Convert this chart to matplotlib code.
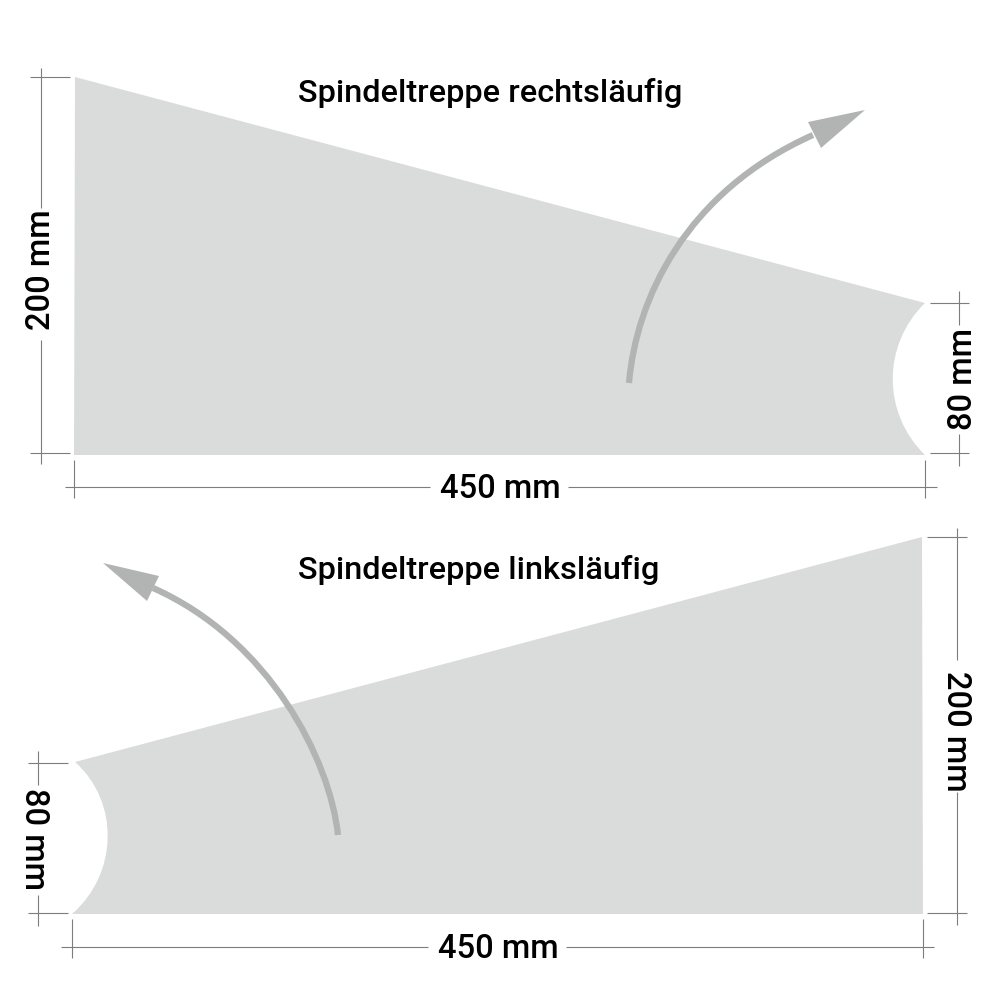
import matplotlib
matplotlib.use("Agg")
import matplotlib.pyplot as plt
from matplotlib.patches import PathPatch, Polygon
from matplotlib.path import Path

plt.rcParams['font.family'] = ['Roboto', 'DejaVu Sans']

top_shape = [(75, 77), (925, 303), (882, 345), (882, 413), (925, 455), (74, 455)]
bottom_shape = [(922, 537), (75, 762), (120, 802), (118, 874), (72, 914), (923, 914)]

top_arrow_curve = [(629, 383), (636, 300), (685, 192), (813, 135)]
top_arrow_head = [(865, 110), (808, 122), (821, 148)]
bottom_arrow_curve = [(338, 835), (330, 760), (270, 640), (153, 588)]
bottom_arrow_head = [(103, 563), (159, 576), (147, 601)]

# Masslinien: x1, y1, x2, y2
dim_lines = [
    (30, 77, 70, 77), (30, 453, 70, 453), (41, 68, 41, 208), (41, 340, 41, 464),
    (65, 487, 430, 487), (568, 487, 937, 487), (74, 460, 74, 498), (925, 460, 925, 498),
    (930, 303, 969, 303), (930, 453, 969, 453), (959, 291, 959, 325), (959, 434, 959, 466),
    (28, 763, 68, 763), (28, 913, 68, 913), (38, 751, 38, 785), (38, 895, 38, 926),
    (61, 947, 428, 947), (566, 947, 934, 947), (72, 919, 72, 958), (923, 919, 923, 958),
    (927, 537, 967, 537), (927, 913, 967, 913), (957, 528, 957, 660), (957, 792, 957, 925),
]

titles = ["Spindeltreppe rechtsläufig", "Spindeltreppe linksläufig"]
title_pos = [(298, 93), (298, 570)]
dim_labels = ["200 mm", "450 mm", "80 mm", "80 mm", "450 mm", "200 mm"]
dim_pos = [(41, 270), (500, 489), (963, 379), (34, 839), (498, 949), (956, 731)]
dim_rot = [90, 0, 90, 270, 0, 270]

fill_col = "#dadcdb"
arrow_col = "#b2b4b3"
line_col = "#7d7d7d"


def shape_path(pts):
    codes = [Path.MOVETO, Path.LINETO, Path.CURVE4, Path.CURVE4, Path.CURVE4, Path.LINETO, Path.CLOSEPOLY]
    return Path(pts + [pts[0]], codes)


fig = plt.figure(figsize=(10, 10), dpi=100)
ax = fig.add_axes([0, 0, 1, 1])
ax.set_xlim(0, 1000)
ax.set_ylim(1000, 0)
ax.axis("off")

for pts in [top_shape, bottom_shape]:
    ax.add_patch(PathPatch(shape_path(pts), facecolor=fill_col, edgecolor="none"))

for curve, head in [(top_arrow_curve, top_arrow_head), (bottom_arrow_curve, bottom_arrow_head)]:
    p = Path(curve, [Path.MOVETO, Path.CURVE4, Path.CURVE4, Path.CURVE4])
    ax.add_patch(PathPatch(p, facecolor="none", edgecolor=arrow_col, lw=4.5, capstyle="butt"))
    ax.add_patch(Polygon(head, closed=True, facecolor=arrow_col, edgecolor="none"))

for x1, y1, x2, y2 in dim_lines:
    ax.plot([x1, x2], [y1, y2], color=line_col, lw=0.8, solid_capstyle="butt")

for t, (x, y) in zip(titles, title_pos):
    ax.text(x, y, t, fontsize=23.4, fontweight="medium", color="black", ha="left", va="center")

for t, (x, y), r in zip(dim_labels, dim_pos, dim_rot):
    ax.text(x, y, t, fontsize=23.5, fontweight="medium", color="black", ha="center", va="center",
            rotation=r)

fig.savefig("out.png", dpi=100)
